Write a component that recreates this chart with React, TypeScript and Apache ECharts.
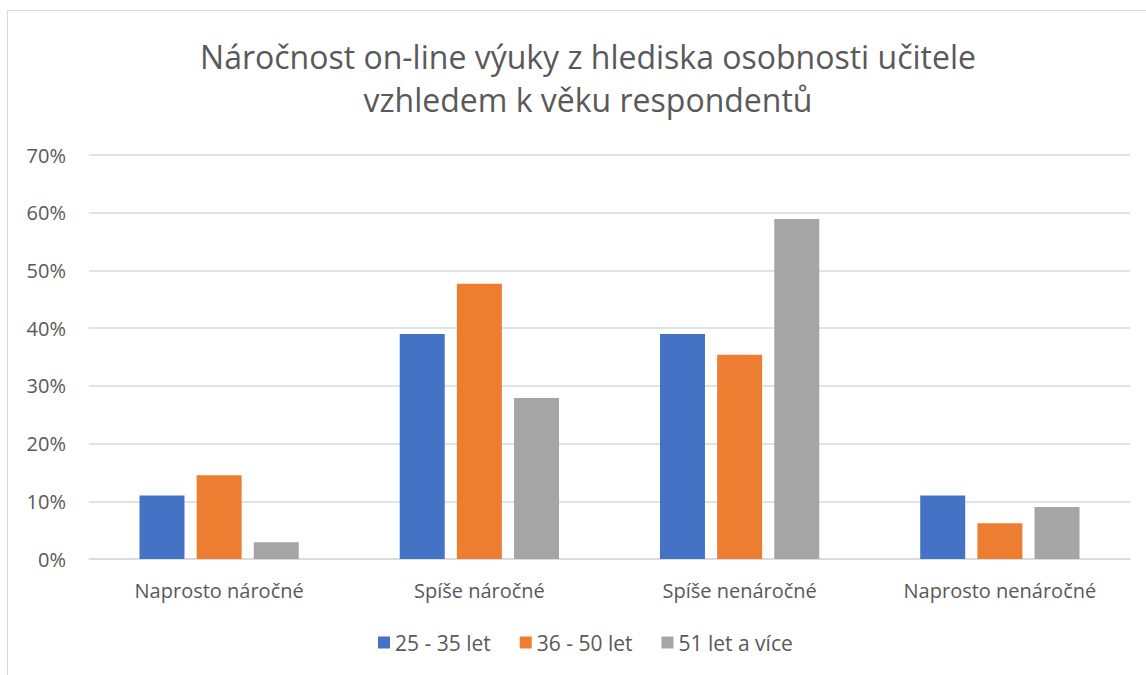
import React, { useEffect, useRef } from "react";
import * as echarts from "echarts";

const categories = ["Naprosto náročné", "Spíše náročné", "Spíše nenáročné", "Naprosto nenáročné"];
const seriesNames = ["25 - 35 let", "36 - 50 let", "51 let a více"];
const young = [11, 39, 39, 11];
const middle = [14.5, 47.7, 35.4, 6.2];
const older = [2.9, 27.9, 58.9, 9];
const colors = ["#4472C4", "#ED7D31", "#A5A5A5"];
const titleText = "Náročnost on-line výuky z hlediska osobnosti učitele\nvzhledem k věku respondentů";

export default function App() {
  const ref = useRef<HTMLDivElement>(null);
  useEffect(() => {
    document.body.style.margin = "0";
    const chart = echarts.init(ref.current!, null, { renderer: "svg" });
    const font = "'Open Sans', sans-serif";
    const data = [young, middle, older];
    chart.setOption({
      animation: false,
      backgroundColor: "#ffffff",
      textStyle: { fontFamily: font },
      title: {
        text: titleText,
        left: 583,
        textAlign: "center",
        top: 30,
        textStyle: { fontFamily: font, fontSize: 32, fontWeight: "normal", color: "#595959", lineHeight: 43 },
      },
      graphic: [
        {
          type: "rect",
          shape: { x: 7.5, y: 10.5, width: 1150, height: 700 },
          style: { fill: "none", stroke: "#D9D9D9", lineWidth: 1 },
          silent: true,
        },
      ],
      legend: {
        bottom: 17,
        left: 373,
        itemWidth: 12,
        itemHeight: 12,
        itemGap: 29,
        icon: "rect",
        textStyle: { fontFamily: font, fontSize: 21, color: "#595959" },
        data: seriesNames,
      },
      grid: { left: 89, right: 16, top: 155, bottom: 116 },
      xAxis: {
        type: "category",
        data: categories,
        axisLine: { lineStyle: { color: "#D9D9D9", width: 1.5 } },
        axisTick: { show: false },
        axisLabel: { fontFamily: font, fontSize: 20, color: "#595959", margin: 21 },
      },
      yAxis: {
        type: "value",
        min: 0,
        max: 70,
        interval: 10,
        axisLine: { show: false },
        axisTick: { show: false },
        splitLine: { lineStyle: { color: "#D9D9D9", width: 1.5 } },
        axisLabel: { fontFamily: font, fontSize: 20, color: "#595959", margin: 23, formatter: "{value}%" },
      },
      series: seriesNames.map((name, i) => ({
        name,
        type: "bar",
        data: data[i],
        barWidth: 45,
        barGap: "27%",
        itemStyle: { color: colors[i] },
      })),
    });
    return () => chart.dispose();
  }, []);
  return <div ref={ref} style={{ width: 1146, height: 675 }} />;
}
